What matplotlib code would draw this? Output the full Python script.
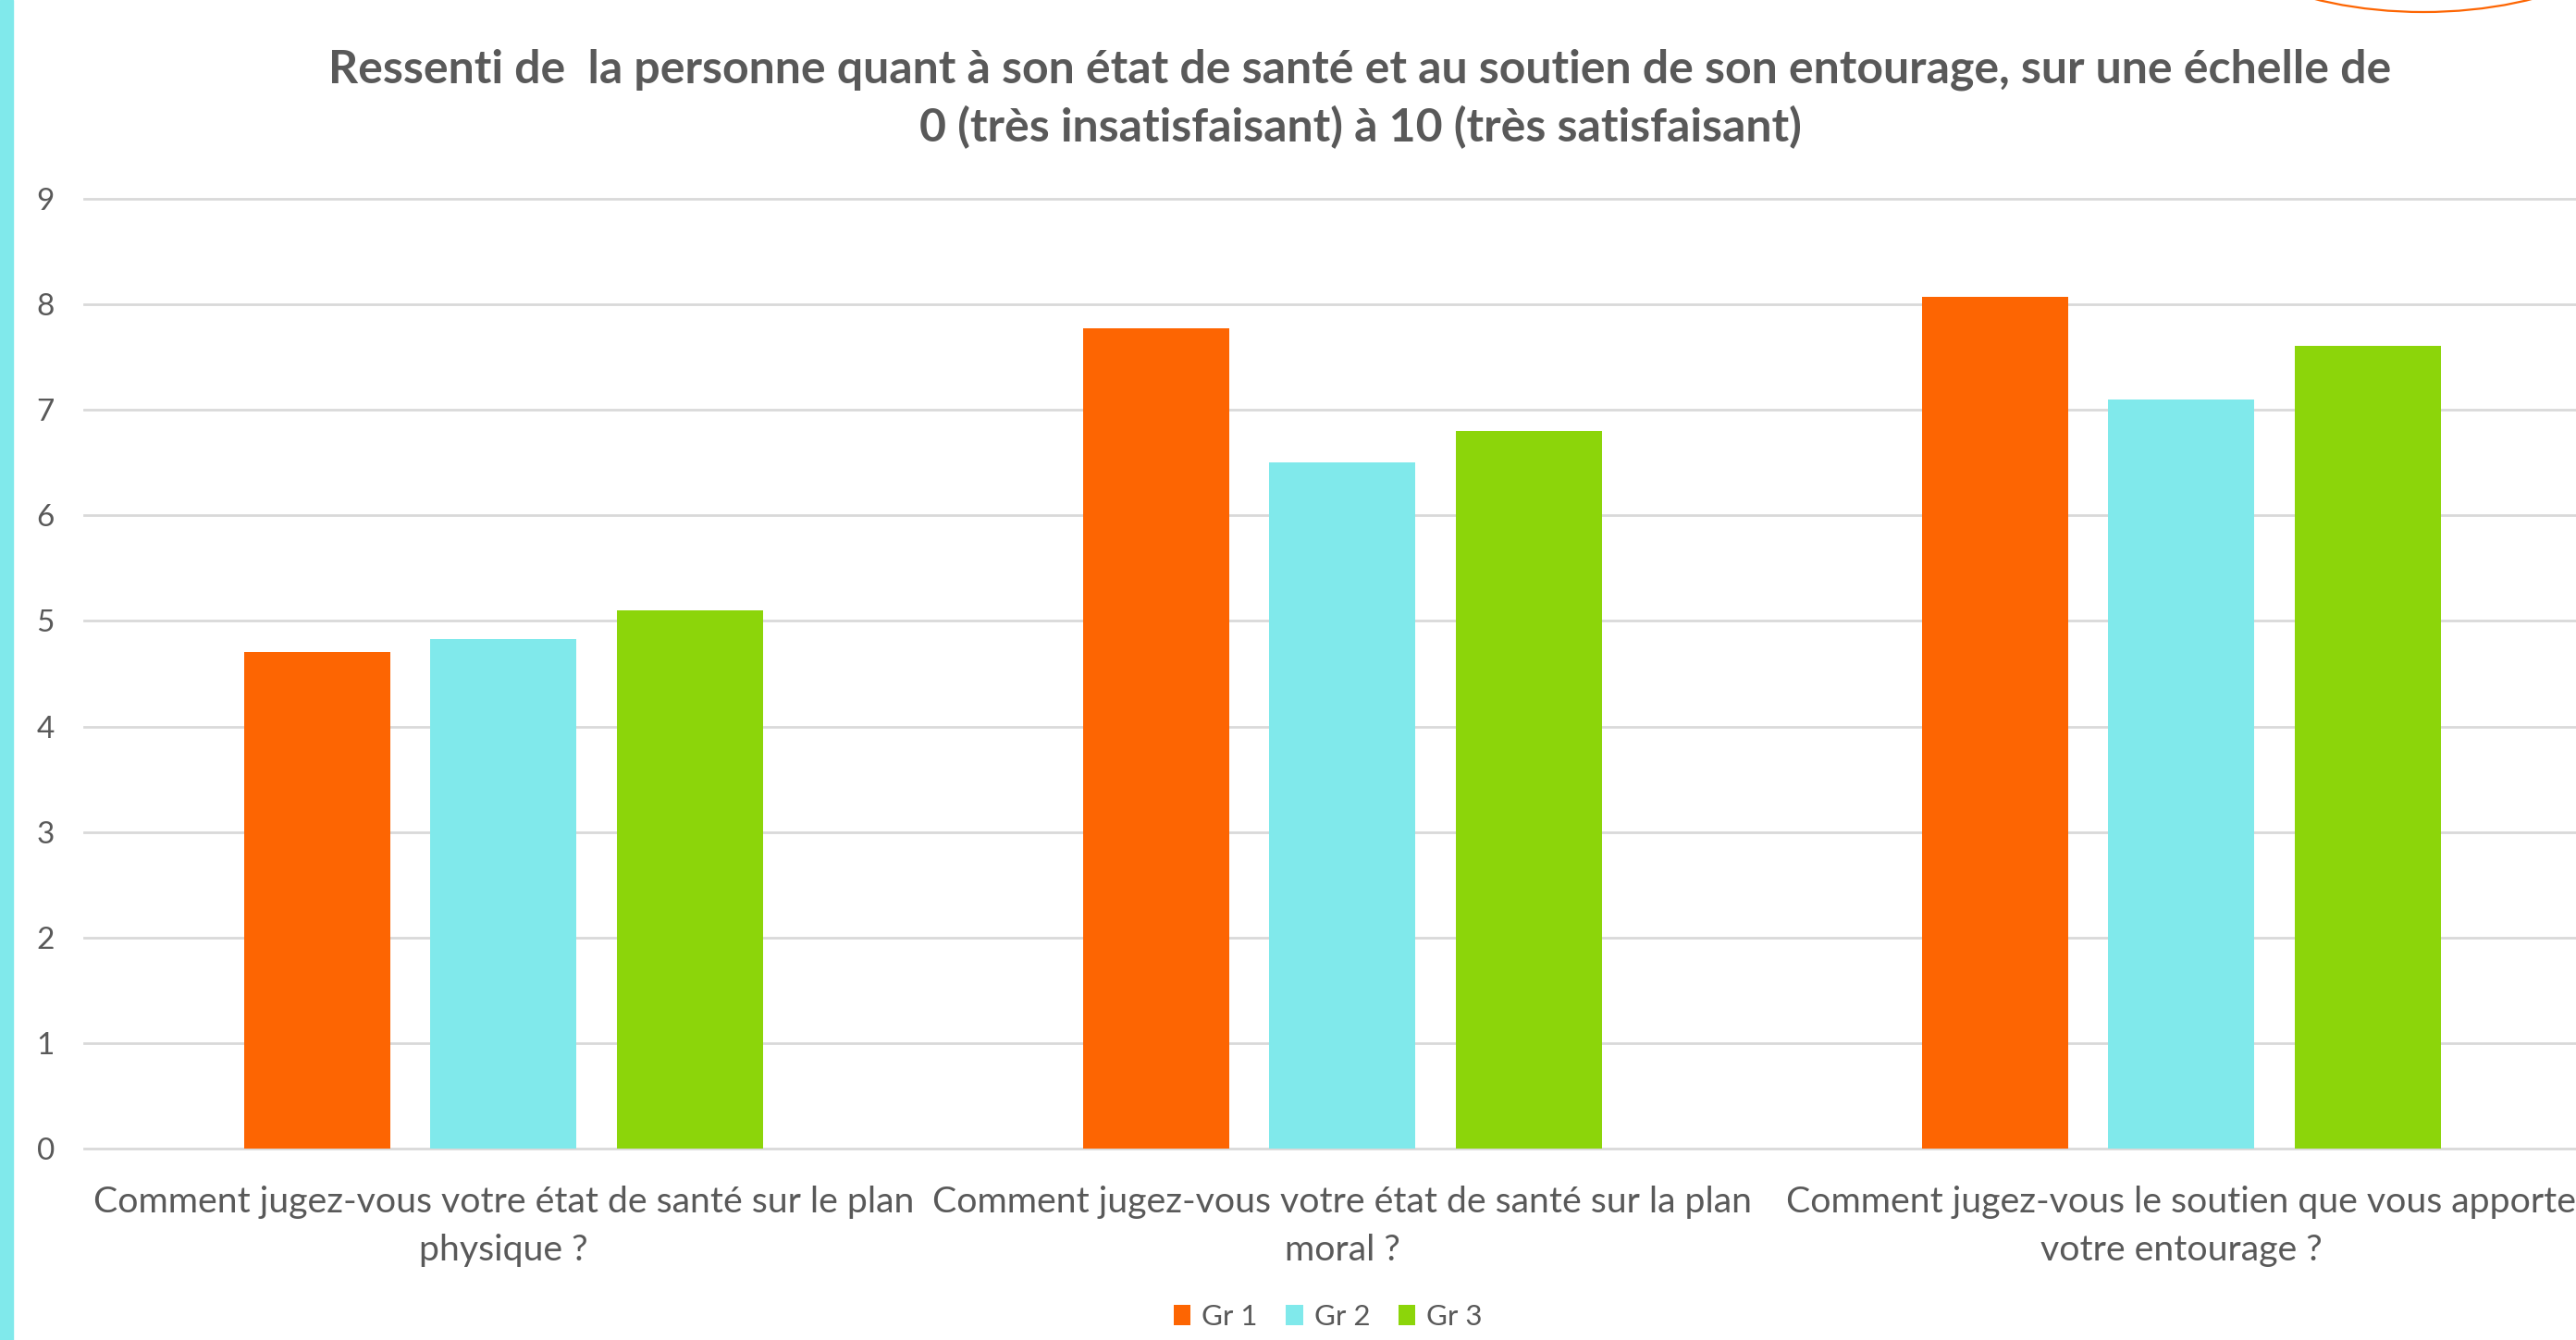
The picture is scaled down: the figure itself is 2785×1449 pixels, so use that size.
import matplotlib
matplotlib.use("Agg")
import matplotlib.pyplot as plt
from matplotlib.patches import Ellipse, Rectangle
import numpy as np

# ── Données ───────────────────────────────────────────────────────────────────

questions = [
    "Comment jugez-vous votre état de santé sur le plan\nphysique ?",
    "Comment jugez-vous votre état de santé sur la plan\nmoral ?",
    "Comment jugez-vous le soutien que vous apporte\nvotre entourage ?",
]
groupes = ["Gr 1", "Gr 2", "Gr 3"]
gr1 = [4.71, 7.77, 8.07]
gr2 = [4.83, 6.50, 7.10]
gr3 = [5.10, 6.80, 7.61]
y_ticks = list(range(0, 10))

titre = ("Ressenti de  la personne quant à son état de santé et au soutien de son entourage, sur une échelle de\n"
         "0 (très insatisfaisant) à 10 (très satisfaisant)")

# ── Style ─────────────────────────────────────────────────────────────────────

ORANGE = "#FD6502"
CYAN   = "#80E9EB"
VERT   = "#8CD50A"
GRIS   = "#595959"

plt.rcParams["font.family"] = ["Lato", "DejaVu Sans"]

W, H = 2785, 1449
fig = plt.figure(figsize=(W / 100, H / 100), dpi=100)

ax = fig.add_axes([90.8 / W, 207 / H, 2721 / W, 1027 / H])

x = np.arange(len(questions))
largeur = 0.174
decal = 0.222
for i, (vals, col, lab) in enumerate(zip([gr1, gr2, gr3], [ORANGE, CYAN, VERT], groupes)):
    ax.bar(x + (i - 1) * decal, vals, width=largeur, color=col, label=lab, zorder=3)

ax.set_xlim(-0.5, 2.5)
ax.set_ylim(0, 9)
ax.set_yticks(y_ticks)
ax.set_xticks(x)
ax.set_xticklabels(questions, fontsize=28.3, color=GRIS, linespacing=1.55)
ax.tick_params(axis="x", length=0, pad=29)
ax.tick_params(axis="y", length=0, pad=30, labelsize=24, labelcolor=GRIS)
for lbl in ax.get_yticklabels():
    lbl.set_horizontalalignment("center")
ax.yaxis.grid(True, color="#D9D9D9", linewidth=2.0, zorder=0)
ax.set_axisbelow(True)
for s in ax.spines.values():
    s.set_visible(False)
for gl in ax.get_ygridlines():
    gl.set_clip_on(False)

# Titre
fig.text(0.528, 1 - 107 / H, titre, ha="center", va="center", fontsize=36,
         fontweight="bold", color=GRIS, linespacing=1.40)

# Légende
fig.legend(loc="center", bbox_to_anchor=(0.5155, 1 - 1424 / H), ncol=3, frameon=False,
           fontsize=22.5, labelcolor=GRIS, handlelength=0.6, handleheight=0.7,
           handletextpad=0.38, columnspacing=0.97)

# Bandeau cyan à gauche et ellipse décorative en haut à droite
fig.add_artist(Rectangle((0, 0), 14 / W, 1, transform=fig.transFigure,
                         color=CYAN, clip_on=False))
fig.add_artist(Ellipse((2620 / W, 1 + 117 / H), 520 / W, 260 / H, transform=fig.transFigure,
                       fill=False, edgecolor=ORANGE, linewidth=1.6, clip_on=False))

fig.savefig("out.png", dpi=100)
